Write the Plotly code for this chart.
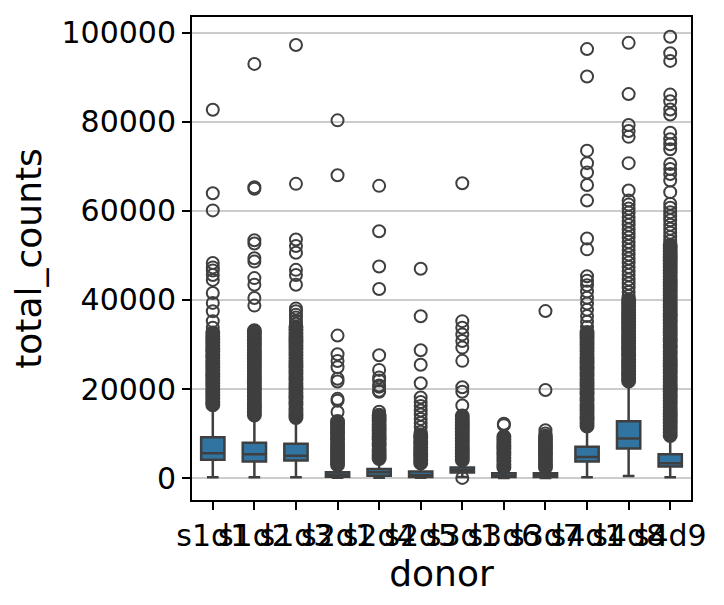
import plotly.graph_objects as go

# donors (x categories)
donors = ["s1d1", "s1d2", "s1d3", "s2d1", "s2d4", "s2d5",
          "s3d1", "s3d6", "s3d7", "s4d1", "s4d8", "s4d9"]

# box statistics
lower_whisker = [200, 200, 200, 100, 100, 100, 250, 50, 50, 220, 510, 220]
q1_vals = [4160, 3720, 3940, 300, 520, 250, 1270, 250, 250, 3720, 6680, 2600]
medians = [5570, 5340, 5050, 700, 1350, 700, 1800, 500, 550, 4740, 8900, 3340]
q3_vals = [9190, 7950, 7720, 1340, 2070, 1480, 2380, 1100, 1100, 7050, 12750, 5340]
upper_whisker = [16300, 14000, 13400, 2700, 4300, 3300, 4000, 2300, 2300, 11500, 21500, 9400]

# outliers per donor: the packed run just above the whisker ...
dense_s1d1 = [16500, 17150, 17900, 18550, 19300, 19950, 20700, 21350, 22050, 22800,
              23450, 24200, 24850, 25600, 26250, 27000, 27650, 28400, 29050, 29800,
              30450, 31200, 31850, 32600]
dense_s1d2 = [14200, 14900, 15650, 16300, 17050, 17700, 18450, 19100, 19850, 20500,
              21250, 21900, 22650, 23300, 24050, 24700, 25450, 26100, 26850, 27500,
              28250, 28900, 29650, 30300, 31050, 31700, 32450, 33100]
dense_s1d3 = [13600, 14300, 15050, 15700, 16450, 17100, 17850, 18500, 19250, 19900,
              20650, 21300, 22050, 22700, 23450, 24100, 24850, 25500, 26250, 26900,
              27650, 28300, 29050, 29700, 30450, 31100, 31850, 32500, 33250, 33900]
dense_s2d1 = [3000, 3650, 4400, 5050, 5800, 6450, 7200, 7850, 8600, 9250, 10000,
              10650, 11400, 12050, 12700]
dense_s2d4 = [4400, 5100, 5850, 6500, 7250, 7900, 8650, 9300, 10050, 10700, 11450,
              12100, 12850, 13500, 14100]
dense_s2d5 = [3400, 4100, 4850, 5500, 6250, 6900, 7650, 8300, 9050, 9700]
dense_s3d1 = [4100, 4800, 5550, 6200, 6950, 7600, 8350, 9000, 9750, 10400, 11150,
              11800, 12550, 13200, 13950]
dense_s3d6 = [2400, 3100, 3850, 4500, 5250, 5900, 6650, 7300, 8050, 8700, 9300]
dense_s3d7 = [2400, 3100, 3850, 4500, 5250, 5900, 6650, 7300, 8050, 8700, 9400]
dense_s4d1 = [11700, 12400, 13150, 13800, 14550, 15200, 15950, 16600, 17350, 18000,
              18750, 19400, 20150, 20800, 21550, 22200, 22950, 23600, 24350, 25000,
              25750, 26400, 27150, 27800, 28550, 29200, 29950, 30600, 31350, 32000,
              32700]
dense_s4d8 = [21800, 22500, 23250, 23900, 24650, 25300, 26050, 26700, 27450, 28100,
              28850, 29500, 30250, 30900, 31650, 32300, 33050, 33700, 34450, 35100,
              35850, 36500, 37250, 37900, 38650, 39300, 40050]
dense_s4d9 = [9600, 10300, 11050, 11700, 12450, 13100, 13850, 14500, 15250, 15900,
              16650, 17300, 18050, 18700, 19450, 20100, 20850, 21500, 22250, 22900,
              23650, 24300, 25050, 25700, 26450, 27100, 27850, 28500, 29250, 29900,
              30650, 31300, 32050, 32700, 33450, 34100, 34850, 35500, 36250, 36900,
              37650, 38300, 39050, 39700, 40450, 41100, 41850, 42500, 43250, 43900,
              44650, 45300, 46050, 46700, 47450, 48100, 48850, 49500, 50250, 50900,
              51650, 52300]

# ... and the separate ones further out
sparse_s1d1 = [33770, 35240, 37470, 39330, 41560, 44500, 45600, 46600, 47300, 48300,
               60100, 63950, 82700]
sparse_s1d2 = [38730, 40450, 43400, 44900, 48600, 49340, 52650, 53400, 64930, 65300,
               92970]
sparse_s1d3 = [34650, 35300, 36050, 36700, 37450, 38100, 43400, 45600, 46750, 50600,
               52090, 53580, 66050, 97200]
sparse_s2d1 = [14850, 17400, 17800, 21700, 22300, 24900, 26300, 27800, 32000, 68000,
               80300]
sparse_s2d4 = [14900, 19400, 19600, 20500, 20800, 21900, 22600, 24300, 27600, 42450,
               47500, 55400, 65600]
sparse_s2d5 = [10400, 11500, 12400, 13300, 14300, 15200, 16200, 17100, 18100, 21300,
               25450, 28700, 36350, 47000]
sparse_s3d1 = [60, 16300, 19400, 20400, 26330, 29300, 30780, 32270, 33760, 35240,
               66200]
sparse_s3d6 = [11900, 12200]
sparse_s3d7 = [10050, 10750, 19800, 37500]
sparse_s4d1 = [33900, 35100, 36400, 37800, 39200, 40500, 41900, 43300, 44300, 45300,
               51350, 53800, 62300, 65800, 68600, 70700, 73500, 90150, 96300]
sparse_s4d8 = [40900, 41800, 42800, 43700, 44600, 45600, 46500, 47400, 48400, 49300,
               50200, 51200, 52100, 53000, 54000, 54900, 55800, 56800, 57700, 58600,
               59600, 60500, 61400, 62300, 64550, 70700, 76600, 77900, 79250, 86200,
               97700]
sparse_s4d9 = [53200, 54100, 55100, 56000, 56900, 57900, 58800, 59700, 60700, 61600,
               64190, 66790, 68280, 69390, 70500, 73830, 74940, 76050, 77530, 81630,
               82740, 84590, 86080, 93650, 95350, 99060]

dense = [dense_s1d1, dense_s1d2, dense_s1d3, dense_s2d1, dense_s2d4, dense_s2d5,
         dense_s3d1, dense_s3d6, dense_s3d7, dense_s4d1, dense_s4d8, dense_s4d9]
sparse = [sparse_s1d1, sparse_s1d2, sparse_s1d3, sparse_s2d1, sparse_s2d4, sparse_s2d5,
          sparse_s3d1, sparse_s3d6, sparse_s3d7, sparse_s4d1, sparse_s4d8, sparse_s4d9]

y_ticks = [0, 20000, 40000, 60000, 80000, 100000]

FONT = "DejaVu Sans"
EDGE = "#3f3f3f"


def flatten(groups):
    xs, ys = [], []
    for d, vals in zip(donors, groups):
        xs += [d] * len(vals)
        ys += vals
    return xs, ys


fig = go.Figure()

fig.add_trace(go.Box(
    x=donors,
    q1=q1_vals,
    median=medians,
    q3=q3_vals,
    lowerfence=lower_whisker,
    upperfence=upper_whisker,
    fillcolor="#3274a1",
    line=dict(color=EDGE, width=2.5),
    whiskerwidth=0.5,
    boxpoints=False,
    hoverinfo="skip",
))

# packed fliers: so many overlap that the column reads solid
dx, dy = flatten(dense)
fig.add_trace(go.Scatter(
    x=dx, y=dy, mode="markers",
    marker=dict(symbol="circle", size=13, color=EDGE, line=dict(width=2, color=EDGE)),
    hoverinfo="skip",
))

sx, sy = flatten(sparse)
fig.add_trace(go.Scatter(
    x=sx, y=sy, mode="markers",
    marker=dict(symbol="circle-open", size=12, color=EDGE, line=dict(width=2, color=EDGE)),
    hoverinfo="skip",
))

# the page body has an 8px margin, so the margins are shifted to compensate
fig.update_layout(
    width=724,
    height=605,
    margin=dict(l=184, r=41, t=7, b=113),
    plot_bgcolor="white",
    paper_bgcolor="white",
    showlegend=False,
    boxgap=0.2,
    font=dict(family=FONT, size=30, color="black"),
)

fig.update_xaxes(
    type="category",
    categoryorder="array",
    categoryarray=donors,
    range=[-0.5, 11.5],
    tickangle=0,
    ticks="outside",
    ticklen=8,
    tickwidth=2,
    tickcolor="black",
    showline=True,
    mirror=True,
    linecolor="black",
    linewidth=2,
    showgrid=False,
    title=dict(text="donor", standoff=2),
)

fig.update_yaxes(
    range=[-4900, 103500],
    tickvals=y_ticks,
    tickformat="d",
    ticks="outside",
    ticklen=8,
    tickwidth=2,
    tickcolor="black",
    showline=True,
    mirror=True,
    linecolor="black",
    linewidth=2,
    showgrid=True,
    gridcolor="#cccccc",
    gridwidth=1.5,
    zeroline=False,
    title=dict(text="total_counts", standoff=12),
)

fig.write_html("out.html")
